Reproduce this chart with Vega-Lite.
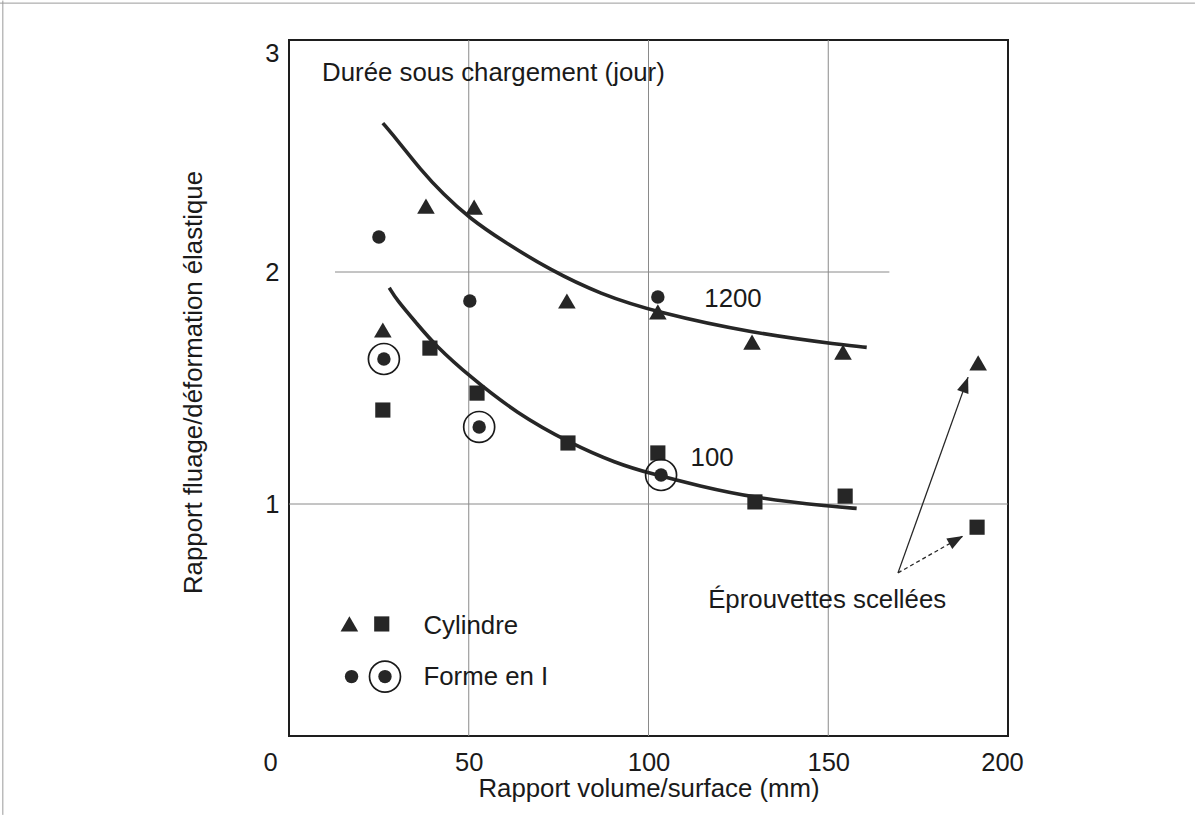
{
  "$schema": "https://vega.github.io/schema/vega-lite/v6.json",
  "width": 719,
  "height": 696,
  "autosize": {"type": "none"},
  "padding": {"left": 289, "top": 40, "right": 187, "bottom": 82},
  "background": "white",
  "config": {
    "view": {"stroke": "#1e1e1e", "strokeWidth": 2},
    "font": "Liberation Sans",
    "text": {"font": "Liberation Sans", "fontSize": 25.8, "color": "#1a1a1a"}
  },
  "datasets": {
    "points": [
      {"vs": 26.1, "ratio": 1.75, "type": "triangle"},
      {"vs": 38.1, "ratio": 2.284, "type": "triangle"},
      {"vs": 51.5, "ratio": 2.28, "type": "triangle"},
      {"vs": 77.3, "ratio": 1.875, "type": "triangle"},
      {"vs": 102.6, "ratio": 1.828, "type": "triangle"},
      {"vs": 128.8, "ratio": 1.698, "type": "triangle"},
      {"vs": 154.1, "ratio": 1.655, "type": "triangle"},
      {"vs": 191.7, "ratio": 1.608, "type": "triangle"},
      {"vs": 16.8, "ratio": 0.483, "type": "triangle"},
      {"vs": 26.1, "ratio": 1.405, "type": "square"},
      {"vs": 39.2, "ratio": 1.672, "type": "square"},
      {"vs": 52.3, "ratio": 1.478, "type": "square"},
      {"vs": 77.6, "ratio": 1.263, "type": "square"},
      {"vs": 102.6, "ratio": 1.22, "type": "square"},
      {"vs": 129.6, "ratio": 1.009, "type": "square"},
      {"vs": 154.7, "ratio": 1.034, "type": "square"},
      {"vs": 191.4, "ratio": 0.9, "type": "square"},
      {"vs": 25.8, "ratio": 0.483, "type": "square"},
      {"vs": 25.0, "ratio": 2.151, "type": "circle"},
      {"vs": 50.3, "ratio": 1.875, "type": "circle"},
      {"vs": 102.6, "ratio": 1.892, "type": "circle"},
      {"vs": 17.4, "ratio": 0.256, "type": "circle"},
      {"vs": 26.4, "ratio": 1.625, "type": "circled"},
      {"vs": 52.9, "ratio": 1.332, "type": "circled"},
      {"vs": 103.5, "ratio": 1.125, "type": "circled"},
      {"vs": 26.7, "ratio": 0.256, "type": "circled"}
    ],
    "curves": [
      {"vs": 26.1, "ratio": 2.642, "days": "1200"},
      {"vs": 30.9, "ratio": 2.554, "days": "1200"},
      {"vs": 36.4, "ratio": 2.445, "days": "1200"},
      {"vs": 42.9, "ratio": 2.335, "days": "1200"},
      {"vs": 50.3, "ratio": 2.231, "days": "1200"},
      {"vs": 59.6, "ratio": 2.132, "days": "1200"},
      {"vs": 72.6, "ratio": 2.009, "days": "1200"},
      {"vs": 86.5, "ratio": 1.905, "days": "1200"},
      {"vs": 102.3, "ratio": 1.826, "days": "1200"},
      {"vs": 129.1, "ratio": 1.736, "days": "1200"},
      {"vs": 154.2, "ratio": 1.685, "days": "1200"},
      {"vs": 160.7, "ratio": 1.675, "days": "1200"},
      {"vs": 27.9, "ratio": 1.932, "days": "100"},
      {"vs": 30.0, "ratio": 1.879, "days": "100"},
      {"vs": 35.5, "ratio": 1.779, "days": "100"},
      {"vs": 40.6, "ratio": 1.685, "days": "100"},
      {"vs": 50.3, "ratio": 1.549, "days": "100"},
      {"vs": 63.3, "ratio": 1.391, "days": "100"},
      {"vs": 78.2, "ratio": 1.262, "days": "100"},
      {"vs": 91.1, "ratio": 1.175, "days": "100"},
      {"vs": 100.4, "ratio": 1.132, "days": "100"},
      {"vs": 114.3, "ratio": 1.077, "days": "100"},
      {"vs": 129.1, "ratio": 1.027, "days": "100"},
      {"vs": 151.4, "ratio": 0.988, "days": "100"},
      {"vs": 157.9, "ratio": 0.981, "days": "100"}
    ],
    "grid": [
      {"vs": 50, "ratio": 0, "vs2": 50, "ratio2": 3},
      {"vs": 100, "ratio": 0, "vs2": 100, "ratio2": 3},
      {"vs": 150, "ratio": 0, "vs2": 150, "ratio2": 3},
      {"vs": 0, "ratio": 1, "vs2": 200, "ratio2": 1},
      {"vs": 12.8, "ratio": 2, "vs2": 167, "ratio2": 2}
    ],
    "scan": [
      {"vs": -80.4, "ratio": 3.159, "vs2": 252, "ratio2": 3.159},
      {"vs": -79.6, "ratio": 3.17, "vs2": -79.6, "ratio2": -0.34}
    ],
    "arrowUp": [{"vs": 169.4, "ratio": 0.703, "vs2": 188.9, "ratio2": 1.547}],
    "arrowDown": [{"vs": 169.4, "ratio": 0.703, "vs2": 187.5, "ratio2": 0.862}],
    "textsLeft": [
      {"vs": 9.2, "ratio": 2.824, "label": "Durée sous chargement (jour)"},
      {"vs": 37.4, "ratio": 0.438, "label": "Cylindre"},
      {"vs": 37.4, "ratio": 0.22, "label": "Forme en I"}
    ],
    "textsCenter": [
      {"vs": 123.5, "ratio": 1.85, "label": "1200"},
      {"vs": 117.7, "ratio": 1.165, "label": "100"},
      {"vs": 149.7, "ratio": 0.552, "label": "Éprouvettes scellées"}
    ]
  },
  "encoding": {
    "x": {
      "field": "vs",
      "type": "quantitative",
      "scale": {"domain": [0, 200], "nice": false, "zero": false},
      "axis": {
        "values": [0, 50, 100, 150, 200],
        "grid": false,
        "ticks": false,
        "tickSize": 0,
        "domain": false,
        "labelFlush": false,
        "labelFont": "Liberation Sans",
        "labelFontSize": 25.5,
        "labelColor": "#1a1a1a",
        "labelPadding": 14,
        "labelOffset": {
          "condition": [
            {"test": "datum.value == 0", "value": -19},
            {"test": "datum.value == 200", "value": -6}
          ],
          "value": 0
        },
        "title": "Rapport volume/surface (mm)",
        "titleFont": "Liberation Sans",
        "titleFontSize": 25.8,
        "titleFontWeight": "normal",
        "titleColor": "#1a1a1a",
        "titleBaseline": "alphabetic",
        "titleY": 60
      }
    },
    "y": {
      "field": "ratio",
      "type": "quantitative",
      "scale": {"domain": [0, 3], "nice": false, "zero": false},
      "axis": {
        "values": [1, 2, 3],
        "grid": false,
        "ticks": false,
        "tickSize": 0,
        "domain": false,
        "labelFont": "Liberation Sans",
        "labelFontSize": 25.5,
        "labelColor": "#1a1a1a",
        "labelPadding": 10,
        "labelOffset": {"condition": {"test": "datum.value == 3", "value": 13}, "value": 0},
        "title": "Rapport fluage/déformation élastique",
        "titleFont": "Liberation Sans",
        "titleFontSize": 25.8,
        "titleFontWeight": "normal",
        "titleColor": "#1a1a1a",
        "titleBaseline": "alphabetic",
        "titleX": -88,
        "titleY": 342
      }
    }
  },
  "layer": [
    {
      "data": {"name": "grid"},
      "mark": {"type": "rule", "color": "#8a8a8a", "strokeWidth": 1},
      "encoding": {"x2": {"field": "vs2"}, "y2": {"field": "ratio2"}}
    },
    {
      "data": {"name": "scan"},
      "mark": {"type": "rule", "color": "#9a9a9a", "strokeWidth": 1, "clip": false},
      "encoding": {"x2": {"field": "vs2"}, "y2": {"field": "ratio2"}}
    },
    {
      "data": {"name": "curves"},
      "mark": {"type": "line", "color": "#262626", "strokeWidth": 3.6, "interpolate": "basis"},
      "encoding": {"detail": {"field": "days"}}
    },
    {
      "data": {"name": "arrowUp"},
      "mark": {"type": "rule", "color": "#262626", "strokeWidth": 1.3},
      "encoding": {"x2": {"field": "vs2"}, "y2": {"field": "ratio2"}}
    },
    {
      "data": {"name": "arrowDown"},
      "mark": {"type": "rule", "color": "#262626", "strokeWidth": 1.3, "strokeDash": [4, 3]},
      "encoding": {"x2": {"field": "vs2"}, "y2": {"field": "ratio2"}}
    },
    {
      "data": {"name": "arrowUp"},
      "mark": {"type": "point", "shape": "M0,0L-0.38,1L0.38,1Z", "filled": true, "color": "#262626", "opacity": 1, "size": 1000, "angle": 19.7},
      "encoding": {"x": {"field": "vs2", "type": "quantitative"}, "y": {"field": "ratio2", "type": "quantitative"}}
    },
    {
      "data": {"name": "arrowDown"},
      "mark": {"type": "point", "shape": "M0,0L-0.38,1L0.38,1Z", "filled": true, "color": "#262626", "opacity": 1, "size": 1000, "angle": 60.4},
      "encoding": {"x": {"field": "vs2", "type": "quantitative"}, "y": {"field": "ratio2", "type": "quantitative"}}
    },
    {
      "data": {"name": "points"},
      "transform": [{"filter": "datum.type == 'triangle'"}],
      "mark": {"type": "point", "shape": "triangle-up", "filled": true, "color": "#262626", "opacity": 1, "size": 310}
    },
    {
      "data": {"name": "points"},
      "transform": [{"filter": "datum.type == 'square'"}],
      "mark": {"type": "point", "shape": "square", "filled": true, "color": "#262626", "opacity": 1, "size": 230}
    },
    {
      "data": {"name": "points"},
      "transform": [{"filter": "datum.type == 'circle' || datum.type == 'circled'"}],
      "mark": {"type": "point", "shape": "circle", "filled": true, "color": "#262626", "opacity": 1, "size": 180}
    },
    {
      "data": {"name": "points"},
      "transform": [{"filter": "datum.type == 'circled'"}],
      "mark": {"type": "point", "shape": "circle", "filled": false, "color": "#1a1a1a", "opacity": 1, "strokeWidth": 1.7, "size": 960}
    },
    {
      "data": {"name": "textsLeft"},
      "mark": {"type": "text", "align": "left", "baseline": "alphabetic"},
      "encoding": {"text": {"field": "label"}}
    },
    {
      "data": {"name": "textsCenter"},
      "mark": {"type": "text", "align": "center", "baseline": "alphabetic"},
      "encoding": {"text": {"field": "label"}}
    }
  ]
}
